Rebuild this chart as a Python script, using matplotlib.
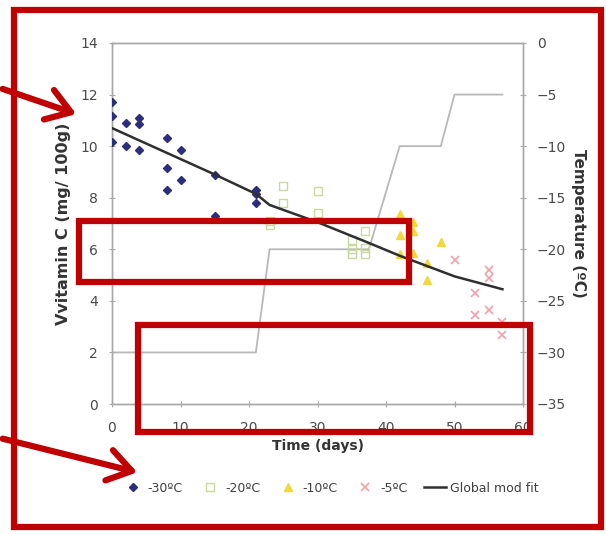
import matplotlib
matplotlib.use("Agg")
import matplotlib.pyplot as plt
from matplotlib.patches import Rectangle, FancyArrowPatch

# ---- data ----
d30_days = [0, 0, 0, 2, 2, 4, 4, 4, 8, 8, 8, 10, 10, 15, 15, 21, 21, 21]
d30_vitc = [11.7, 11.15, 10.15, 10.9, 10.0, 11.1, 10.85, 9.85, 10.3, 9.15, 8.3, 9.85, 8.7, 8.9, 7.3, 8.3, 8.15, 7.8]

d20_days = [23, 23, 25, 25, 30, 30, 35, 35, 35, 37, 37, 37]
d20_vitc = [7.1, 6.95, 8.45, 7.8, 8.25, 7.4, 6.35, 6.0, 5.8, 6.7, 6.05, 5.8]

d10_days = [42, 42, 42, 44, 44, 44, 46, 46, 48]
d10_vitc = [7.35, 6.55, 5.8, 7.05, 6.7, 5.85, 5.45, 4.8, 6.28]

d5_days = [50, 53, 53, 55, 55, 55, 57, 57]
d5_vitc = [5.58, 4.3, 3.45, 5.2, 4.88, 3.64, 3.18, 2.68]

fit_days = [0, 5, 10, 15, 21, 23, 30, 37, 42, 46, 50, 57]
fit_vitc = [10.7, 10.1, 9.5, 8.9, 8.15, 7.72, 7.05, 6.3, 5.75, 5.35, 4.95, 4.45]

temp_days = [0, 21, 23, 37.5, 42, 48, 50, 57]
temp_vals = [-30, -30, -20, -20, -10, -10, -5, -5]

series_labels = ["-30ºC", "-20ºC", "-10ºC", "-5ºC", "Global mod fit"]

W, H = 606, 534
fig = plt.figure(figsize=(W / 100, H / 100), dpi=100)
fig.patch.set_facecolor("white")

def fx(px):
    return px / W

def fy(py):
    return 1 - py / H

ax = fig.add_axes([fx(112), fy(404), fx(523) - fx(112), fy(43) - fy(404)])
ax2 = ax.twinx()

tick_color = "#4a4a4a"
spine_color = "#a8a8a8"

# temperature step line on the right axis
ax2.plot(temp_days, temp_vals, color="#b8b8b8", lw=1.3, zorder=1)
ax2.set_ylim(-35, 0)
ax2.set_yticks(range(-35, 1, 5))

# scatter series
h30, = ax.plot(d30_days, d30_vitc, ls="none", marker="D", ms=4.5, color="#2d2d7d", zorder=3)
h20, = ax.plot(d20_days, d20_vitc, ls="none", marker="s", ms=5.5, mfc="none", mec="#c9d99b", mew=1.0, zorder=3)
h10, = ax.plot(d10_days, d10_vitc, ls="none", marker="^", ms=5.5, color="#f2d83c", zorder=3)
h5, = ax.plot(d5_days, d5_vitc, ls="none", marker="x", ms=5.5, mew=1.2, color="#f3a0a6", zorder=3)
hfit, = ax.plot(fit_days, fit_vitc, color="#2f2f2f", lw=1.8, zorder=4)

ax.set_zorder(ax2.get_zorder() + 1)
ax.patch.set_visible(False)

ax.set_xlim(0, 60)
ax.set_ylim(0, 14)
ax.set_xticks(range(0, 61, 10))
ax.set_yticks(range(0, 15, 2))

for a in (ax, ax2):
    for s in a.spines.values():
        s.set_color(spine_color)
        s.set_linewidth(1.0)
    a.tick_params(colors=spine_color, labelcolor=tick_color, labelsize=10, length=4, direction="inout")

ax.tick_params(axis="x", pad=10)
ax.tick_params(axis="y", pad=8)
ax2.tick_params(axis="y", pad=8)

ax.set_xlabel("Time (days)", fontsize=10, fontweight="bold", color="#333333", labelpad=3)
ax.set_ylabel("Vvitamin C (mg/ 100g)", fontsize=11.5, fontweight="bold", color="#333333", labelpad=7)
ax2.set_ylabel("Temperature (ºC)", fontsize=11, fontweight="bold", color="#333333", rotation=270, labelpad=14)

leg = fig.legend([h30, h20, h10, h5, hfit], series_labels, loc="center",
                 bbox_to_anchor=(fx(330), fy(488)), ncol=5, frameon=False,
                 fontsize=9, handletextpad=0.3, columnspacing=1.3, handlelength=1.8)
for t in leg.get_texts():
    t.set_color("#404040")

# red annotation overlay
red = "#c00000"
fig.add_artist(Rectangle((fx(14), fy(527)), fx(601) - fx(14), fy(10) - fy(527),
                         transform=fig.transFigure, fill=False, ec=red, lw=4.5, zorder=10))
fig.add_artist(Rectangle((fx(79), fy(282)), fx(409) - fx(79), fy(221) - fy(282),
                         transform=fig.transFigure, fill=False, ec=red, lw=4.5, zorder=10))
fig.add_artist(Rectangle((fx(138), fy(432)), fx(530) - fx(138), fy(325) - fy(432),
                         transform=fig.transFigure, fill=False, ec=red, lw=4.5, zorder=10))

for (x0, y0, x1, y1) in [(0, 88, 79, 115), (0, 438, 140, 473)]:
    fig.add_artist(FancyArrowPatch((fx(x0), fy(y0)), (fx(x1), fy(y1)), transform=fig.transFigure,
                                   arrowstyle="->,head_length=1.2,head_width=0.8",
                                   color=red, lw=4.5, mutation_scale=14, zorder=10))

fig.savefig("out.png", dpi=100)
